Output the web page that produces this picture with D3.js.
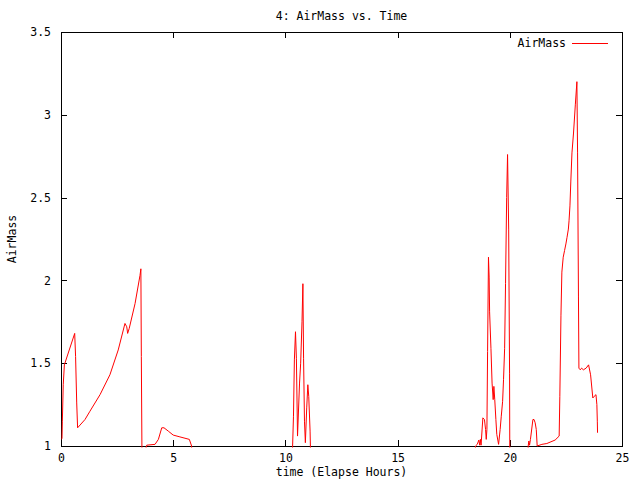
<!DOCTYPE html>
<html>
<head>
<meta charset="utf-8">
<script src="https://cdn.jsdelivr.net/npm/d3@7"></script>
<style>
  html, body { margin: 0; padding: 0; background: #fff; }
  text { font-family: "DejaVu Sans Mono", monospace; font-size: 11.5px; fill: #000; }
</style>
</head>
<body>
<div id="chart"></div>
<script>
// AirMass vs. Time (gnuplot-look plot)

const chartTitle = '4: AirMass vs. Time';
const xTitle = 'time (Elapse Hours)';
const yTitle = 'AirMass';
const seriesName = 'AirMass';

const xTicks = [0, 5, 10, 15, 20, 25];
const yTicks = [1, 1.5, 2, 2.5, 3, 3.5];

// elapsed hours; values under 1 are below the plotted range (clipped like gnuplot)
const time = [
  0.02, 0.045, 0.06, 0.10, 0.15, 0.61, 0.65, 0.70, 0.74, 1.07, 1.29, 1.74, 2.18, 2.55,
  2.85, 2.93, 2.97, 3.04, 3.30, 3.52, 3.56, 3.58, 3.61, 3.82, 4.19, 4.34, 4.49, 4.59,
  4.78, 5.00, 5.30, 5.72, 5.82, 5.84,
  10.30, 10.36, 10.40, 10.45, 10.49, 10.54, 10.63, 10.68, 10.74, 10.78, 10.81, 10.85,
  10.89, 10.95, 11.00, 11.04, 11.10, 11.13,
  18.45, 18.47, 18.55, 18.62, 18.66, 18.69, 18.72, 18.80, 18.87, 18.92, 18.95, 18.98,
  19.01, 19.05, 19.08, 19.10, 19.16, 19.21, 19.26, 19.29, 19.33, 19.38, 19.42, 19.50,
  19.57, 19.62, 19.68, 19.72, 19.77, 19.81, 19.86, 19.90, 19.95, 19.99, 20.00,
  20.80, 20.82, 20.85, 20.88, 20.92, 21.03, 21.08, 21.13, 21.18, 21.22, 21.43, 21.65,
  22.02, 22.20, 22.23, 22.28, 22.32, 22.38, 22.44, 22.50, 22.55, 22.61, 22.64, 22.68,
  22.72, 22.77, 22.84, 22.92, 22.99, 23.02, 23.06, 23.08, 23.14, 23.20, 23.28, 23.40,
  23.51, 23.60, 23.70, 23.76, 23.84, 23.88, 23.90, 23.91
];
const airMass = [
  1.04, 1.047, 1.15, 1.37, 1.49, 1.68, 1.54, 1.26, 1.11, 1.16, 1.21, 1.31, 1.43, 1.58,
  1.74, 1.72, 1.68, 1.71, 1.86, 2.03, 2.07, 1.54, 0.9, 1.005, 1.01, 1.04, 1.11, 1.11,
  1.09, 1.066, 1.055, 1.04, 1.0, 0.9,
  0.9, 1.18, 1.52, 1.69, 1.53, 1.06, 1.38, 1.50, 1.75, 1.98, 1.53, 1.15,
  1.02, 1.23, 1.37, 1.30, 1.09, 0.9,
  0.9, 1.0, 1.01, 1.036, 1.005, 1.04, 1.005, 1.17, 1.16, 1.10, 1.04, 1.10,
  1.57, 2.14, 2.02, 1.81, 1.59, 1.38, 1.28, 1.36, 1.28, 1.16, 1.07, 1.01,
  1.10, 1.18, 1.27, 1.40, 1.59, 1.98, 2.50, 2.76, 2.31, 1.44, 0.9,
  0.9, 1.0, 1.03, 1.005, 1.04, 1.16, 1.16, 1.14, 1.10, 1.0, 1.01, 1.015,
  1.036, 1.06, 1.30, 1.79, 2.05, 2.14, 2.18, 2.22, 2.26, 2.31, 2.36, 2.45,
  2.60, 2.77, 2.89, 3.06, 3.20, 2.77, 1.90, 1.47, 1.46, 1.47, 1.46, 1.47,
  1.49, 1.43, 1.29, 1.30, 1.31, 1.25, 1.15, 1.08
];

const width = 640, height = 480;
const plotLeft = 61, plotRight = 622, plotTop = 32, plotBottom = 446;

const svg = d3.select('#chart')
  .append('svg')
  .attr('width', width)
  .attr('height', height);

const x = d3.scaleLinear().domain([0, 25]).range([plotLeft, plotRight]);
const y = d3.scaleLinear().domain([1, 3.5]).range([plotBottom, plotTop]);

// axes, ticks pointing inward, mirrored on top/right
function styleAxis(g) {
  g.attr('font-family', null).attr('font-size', null);
  g.select('.domain').remove();
  g.selectAll('line').attr('stroke', '#000').attr('shape-rendering', 'crispEdges');
}

svg.append('g')
  .attr('transform', `translate(0,${plotBottom})`)
  .call(d3.axisBottom(x).tickValues(xTicks).tickSizeInner(-6).tickSizeOuter(0).tickPadding(8))
  .call(styleAxis);

svg.append('g')
  .attr('transform', `translate(0,${plotTop})`)
  .call(d3.axisTop(x).tickValues(xTicks).tickSizeInner(-6).tickSizeOuter(0).tickFormat(''))
  .call(styleAxis);

svg.append('g')
  .attr('transform', `translate(${plotLeft},0)`)
  .call(d3.axisLeft(y).tickValues(yTicks).tickSizeInner(-6).tickSizeOuter(0).tickPadding(10)
    .tickFormat(d3.format('')))
  .call(styleAxis);

svg.append('g')
  .attr('transform', `translate(${plotRight},0)`)
  .call(d3.axisRight(y).tickValues(yTicks).tickSizeInner(-6).tickSizeOuter(0).tickFormat(''))
  .call(styleAxis);

svg.append('rect')
  .attr('x', plotLeft + 0.5)
  .attr('y', plotTop + 0.5)
  .attr('width', plotRight - plotLeft)
  .attr('height', plotBottom - plotTop)
  .attr('fill', 'none')
  .attr('stroke', '#000')
  .attr('shape-rendering', 'crispEdges');

// data line, clipped to the plot box
svg.append('clipPath')
  .attr('id', 'plot-clip')
  .append('rect')
  .attr('x', plotLeft)
  .attr('y', plotTop)
  .attr('width', plotRight - plotLeft + 1)
  .attr('height', plotBottom - plotTop + 1.5);

const points = time.map((t, i) => ({ t: t, a: airMass[i] }));

const line = d3.line()
  .x(d => x(d.t))
  .y(d => y(d.a));

svg.append('path')
  .datum(points)
  .attr('clip-path', 'url(#plot-clip)')
  .attr('fill', 'none')
  .attr('stroke', '#ff0000')
  .attr('stroke-width', 1)
  .attr('d', line);

// titles
svg.append('text')
  .attr('x', (plotLeft + plotRight) / 2)
  .attr('y', 20)
  .attr('text-anchor', 'middle')
  .text(chartTitle);

svg.append('text')
  .attr('x', (plotLeft + plotRight) / 2)
  .attr('y', 476)
  .attr('text-anchor', 'middle')
  .text(xTitle);

svg.append('text')
  .attr('transform', 'translate(16,239) rotate(-90)')
  .attr('text-anchor', 'middle')
  .text(yTitle);

// legend
svg.append('text')
  .attr('x', 566)
  .attr('y', 47)
  .attr('text-anchor', 'end')
  .text(seriesName);

svg.append('line')
  .attr('x1', 572)
  .attr('x2', 608)
  .attr('y1', 43.5)
  .attr('y2', 43.5)
  .attr('stroke', '#ff0000')
  .attr('stroke-width', 1);
</script>
</body>
</html>
